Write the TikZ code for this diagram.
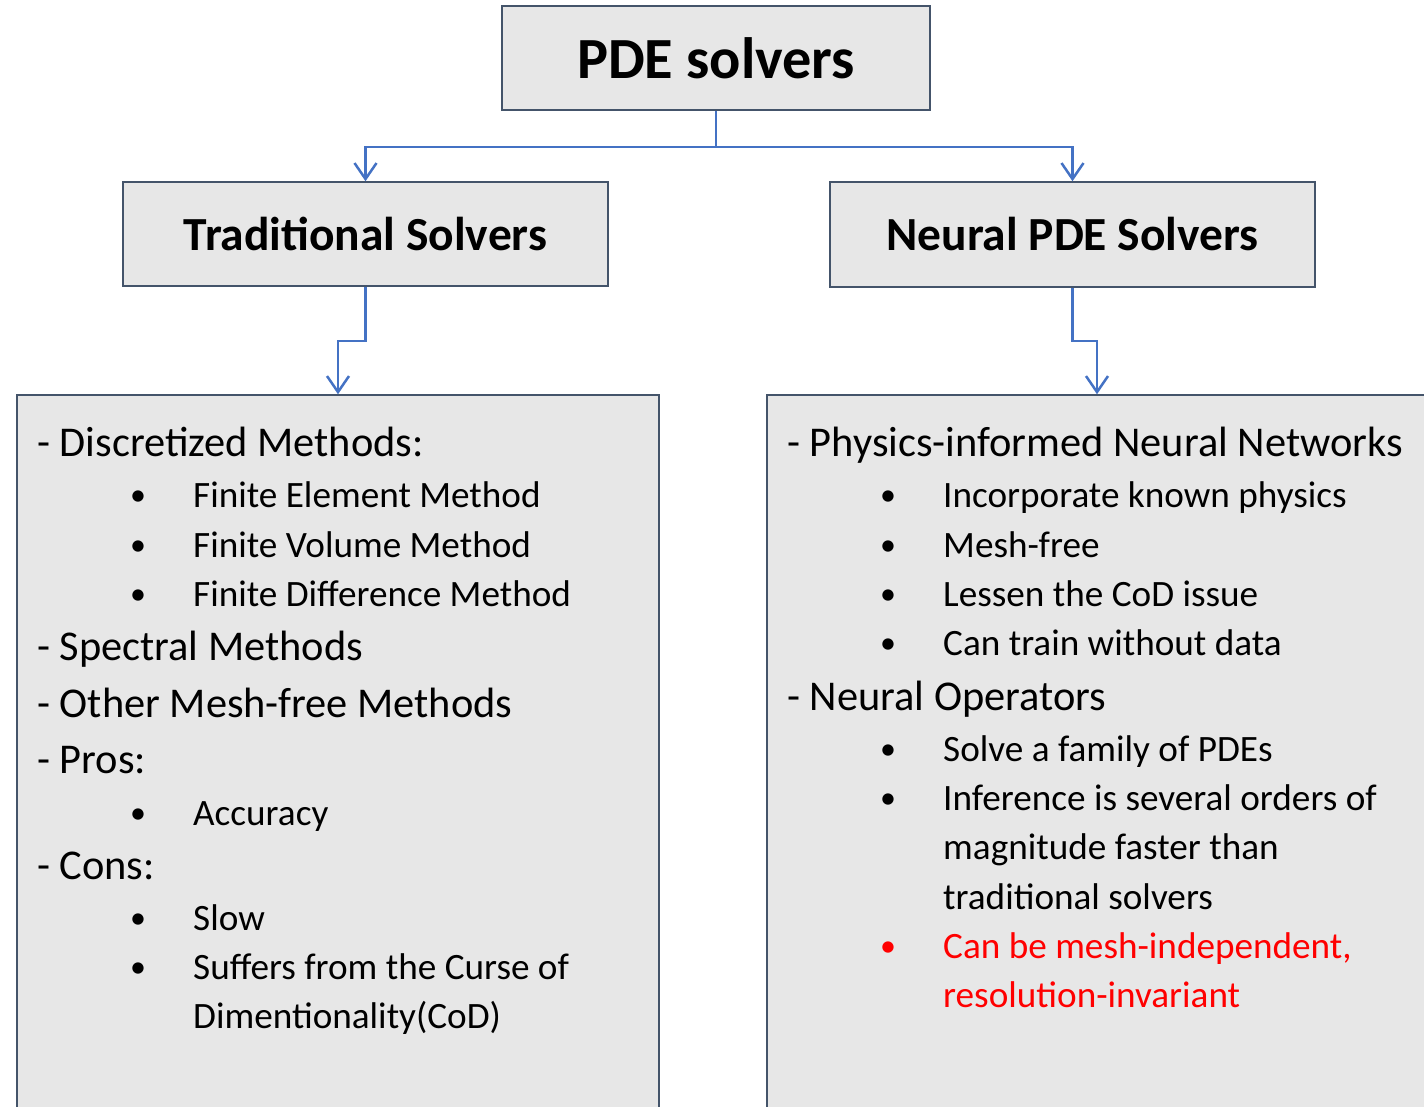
\documentclass[tikz,border=0pt]{standalone}
\usepackage{fontspec}
\setmainfont{Carlito}
\usetikzlibrary{arrows.meta}
\definecolor{boxfill}{RGB}{231,231,231}
\definecolor{boxline}{RGB}{68,84,106}
\definecolor{connc}{RGB}{68,114,196}
\definecolor{redtxt}{RGB}{255,0,0}
\begin{document}
\begin{tikzpicture}[x=1pt,y=-1pt,
  box/.style={draw=boxline, line width=1.5pt, fill=boxfill, inner sep=0pt},
  conn/.style={draw=connc, line width=2.5pt, -{Straight Barb[length=16pt,width=22pt]}},
  head/.style={anchor=base west, inner sep=0pt, font=\fontsize{42.4}{50}\selectfont},
  item/.style={anchor=base west, inner sep=0pt, font=\fontsize{37.2}{44}\selectfont},
  dot/.style={anchor=base, inner sep=0pt, font=\fontsize{32}{40}\selectfont}]
\useasboundingbox (0,0) rectangle (1424,1106);
\clip (0,0) rectangle (1424,1106);
% boxes
\node[box, minimum width=428pt, minimum height=104pt, font=\fontsize{58.3}{60}\selectfont\bfseries] (pde) at (716,58) {PDE solvers};
\node[box, minimum width=485pt, minimum height=104pt, font=\fontsize{47.5}{50}\selectfont\bfseries] (trad) at (365.5,234) {Traditional Solvers};
\node[box, minimum width=485pt, minimum height=105pt, font=\fontsize{47.5}{50}\selectfont\bfseries] (neur) at (1072.5,234.5) {Neural PDE Solvers};
\node[box, minimum width=642pt, minimum height=735pt] (left) at (338,762.5) {};
\node[box, minimum width=660pt, minimum height=735pt] (right) at (1097,762.5) {};
% connectors
\draw[conn] (pde.south) -- ++(0,36) -| (trad.north);
\draw[conn] (pde.south) -- ++(0,36) -| (neur.north);
\draw[conn] (trad.south) -- ++(0,54) -| (left.north);
\draw[conn] (neur.south) -- ++(0,53) -| (right.north);
% left text
\node[head] (l1) at (37,456) {- Discretized Methods:};
\node[dot] (lb1) at (138,505) {•};
\node[item] (l2) at (193,507) {Finite Element Method};
\node[dot] (lb2) at (138,555) {•};
\node[item] (l3) at (193,557) {Finite Volume Method};
\node[dot] (lb3) at (138,604) {•};
\node[item] (l4) at (193,606) {Finite Difference Method};
\node[head] (l5) at (37,660) {- Spectral Methods};
\node[head] (l6) at (37,717) {- Other Mesh-free Methods};
\node[head] (l7) at (37,773) {- Pros:};
\node[dot] (lb4) at (138,823) {•};
\node[item] (l8) at (193,825) {Accuracy};
\node[head] (l9) at (37,879) {- Cons:};
\node[dot] (lb5) at (138,928) {•};
\node[item] (l10) at (193,930) {Slow};
\node[dot] (lb6) at (138,977) {•};
\node[item] (l11) at (193,979) {Suffers from the Curse of};
\node[item] (l12) at (193,1028) {Dimentionality(CoD)};
% right text
\node[head] (r1) at (787,456) {- Physics-informed Neural Networks};
\node[dot] (rb1) at (888,505) {•};
\node[item] (r2) at (943,507) {Incorporate known physics};
\node[dot] (rb2) at (888,555) {•};
\node[item] (r3) at (943,557) {Mesh-free};
\node[dot] (rb3) at (888,604) {•};
\node[item] (r4) at (943,606) {Lessen the CoD issue};
\node[dot] (rb4) at (888,653) {•};
\node[item] (r5) at (943,655) {Can train without data};
\node[head] (r6) at (787,710) {- Neural Operators};
\node[dot] (rb5) at (888,759) {•};
\node[item] (r7) at (943,761) {Solve a family of PDEs};
\node[dot] (rb6) at (888,808) {•};
\node[item] (r8) at (943,810) {Inference is several orders of};
\node[item] (r9) at (943,859) {magnitude faster than};
\node[item] (r10) at (943,909) {traditional solvers};
\node[dot, text=redtxt] (rb7) at (888,956) {•};
\node[item, text=redtxt] (r11) at (943,958) {Can be mesh-independent,};
\node[item, text=redtxt] (r12) at (943,1007) {resolution-invariant};
\end{tikzpicture}
\end{document}
